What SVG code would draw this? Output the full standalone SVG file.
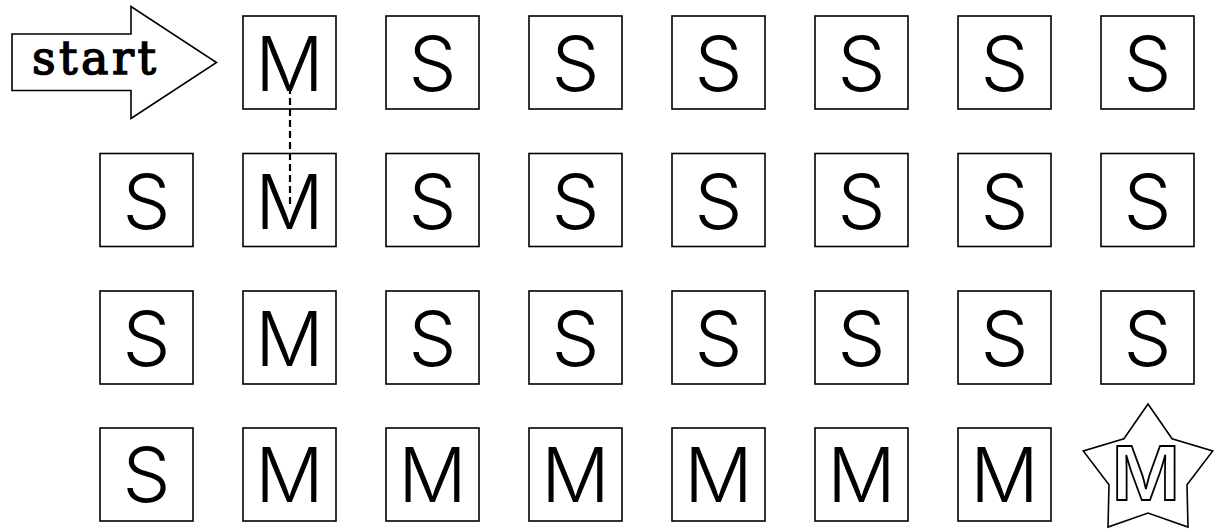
<svg xmlns="http://www.w3.org/2000/svg" width="1217" height="529" viewBox="0 0 1217 529">
<style>
.box{fill:#fff;stroke:#000;stroke-width:1.6}
.lbl{font-family:Inter,"Liberation Sans",sans-serif;font-size:76px;font-weight:300;fill:#000;text-anchor:middle}
.star{fill:#fff;stroke:#000;stroke-width:1.6}
.slbl{font-family:Inter,"Liberation Sans",sans-serif;font-size:74px;font-weight:600;fill:#fff;stroke:#000;stroke-width:1.8;text-anchor:middle}
.conn{fill:none;stroke:#000;stroke-width:2.2;stroke-dasharray:7 4}
</style>
<rect width="1217" height="529" fill="#fff"/>
<g id="start">
<polygon points="12,34 131,34 131,6.5 216.5,62.5 131,118.5 131,90.5 12,90.5" fill="#fff" stroke="#000" stroke-width="1.6"/>
<text x="94" y="74" font-family="'DejaVu Serif',serif" font-size="46" stroke="#000" stroke-width="1.5" text-anchor="middle" textLength="124" lengthAdjust="spacing">start</text>
</g>
<g id="r1c1"><rect class="box" x="243" y="16" width="93" height="93"/><text class="lbl" x="289.5" y="91">M</text></g>
<g id="r1c2"><rect class="box" x="386" y="16" width="93" height="93"/><text class="lbl" x="432.5" y="91">S</text></g>
<g id="r1c3"><rect class="box" x="529" y="16" width="93" height="93"/><text class="lbl" x="575.5" y="91">S</text></g>
<g id="r1c4"><rect class="box" x="672" y="16" width="93" height="93"/><text class="lbl" x="718.5" y="91">S</text></g>
<g id="r1c5"><rect class="box" x="815" y="16" width="93" height="93"/><text class="lbl" x="861.5" y="91">S</text></g>
<g id="r1c6"><rect class="box" x="958" y="16" width="93" height="93"/><text class="lbl" x="1004.5" y="91">S</text></g>
<g id="r1c7"><rect class="box" x="1101" y="16" width="93" height="93"/><text class="lbl" x="1147.5" y="91">S</text></g>

<g id="r2c0"><rect class="box" x="100" y="153.5" width="93" height="93"/><text class="lbl" x="146.5" y="228.5">S</text></g>
<g id="r2c1"><rect class="box" x="243" y="153.5" width="93" height="93"/><text class="lbl" x="289.5" y="228.5">M</text></g>
<g id="r2c2"><rect class="box" x="386" y="153.5" width="93" height="93"/><text class="lbl" x="432.5" y="228.5">S</text></g>
<g id="r2c3"><rect class="box" x="529" y="153.5" width="93" height="93"/><text class="lbl" x="575.5" y="228.5">S</text></g>
<g id="r2c4"><rect class="box" x="672" y="153.5" width="93" height="93"/><text class="lbl" x="718.5" y="228.5">S</text></g>
<g id="r2c5"><rect class="box" x="815" y="153.5" width="93" height="93"/><text class="lbl" x="861.5" y="228.5">S</text></g>
<g id="r2c6"><rect class="box" x="958" y="153.5" width="93" height="93"/><text class="lbl" x="1004.5" y="228.5">S</text></g>
<g id="r2c7"><rect class="box" x="1101" y="153.5" width="93" height="93"/><text class="lbl" x="1147.5" y="228.5">S</text></g>

<g id="r3c0"><rect class="box" x="100" y="291" width="93" height="93"/><text class="lbl" x="146.5" y="366">S</text></g>
<g id="r3c1"><rect class="box" x="243" y="291" width="93" height="93"/><text class="lbl" x="289.5" y="366">M</text></g>
<g id="r3c2"><rect class="box" x="386" y="291" width="93" height="93"/><text class="lbl" x="432.5" y="366">S</text></g>
<g id="r3c3"><rect class="box" x="529" y="291" width="93" height="93"/><text class="lbl" x="575.5" y="366">S</text></g>
<g id="r3c4"><rect class="box" x="672" y="291" width="93" height="93"/><text class="lbl" x="718.5" y="366">S</text></g>
<g id="r3c5"><rect class="box" x="815" y="291" width="93" height="93"/><text class="lbl" x="861.5" y="366">S</text></g>
<g id="r3c6"><rect class="box" x="958" y="291" width="93" height="93"/><text class="lbl" x="1004.5" y="366">S</text></g>
<g id="r3c7"><rect class="box" x="1101" y="291" width="93" height="93"/><text class="lbl" x="1147.5" y="366">S</text></g>

<g id="r4c0"><rect class="box" x="100" y="428" width="93" height="93"/><text class="lbl" x="146.5" y="502">S</text></g>
<g id="r4c1"><rect class="box" x="243" y="428" width="93" height="93"/><text class="lbl" x="289.5" y="502">M</text></g>
<g id="r4c2"><rect class="box" x="386" y="428" width="93" height="93"/><text class="lbl" x="432.5" y="502">M</text></g>
<g id="r4c3"><rect class="box" x="529" y="428" width="93" height="93"/><text class="lbl" x="575.5" y="502">M</text></g>
<g id="r4c4"><rect class="box" x="672" y="428" width="93" height="93"/><text class="lbl" x="718.5" y="502">M</text></g>
<g id="r4c5"><rect class="box" x="815" y="428" width="93" height="93"/><text class="lbl" x="861.5" y="502">M</text></g>
<g id="r4c6"><rect class="box" x="958" y="428" width="93" height="93"/><text class="lbl" x="1004.5" y="502">M</text></g>
<g id="r4c7">
<polygon class="star" points="1148,404 1172.1,438.8 1212.7,451 1187,484.7 1188,527 1148,513 1108,527 1109,484.7 1083.3,451 1123.9,438.8"/>
<text class="slbl" x="1146" y="500">M</text>
</g>
<g id="connectors">
<line class="conn" x1="290" y1="87" x2="290" y2="206"/>
</g>
</svg>
